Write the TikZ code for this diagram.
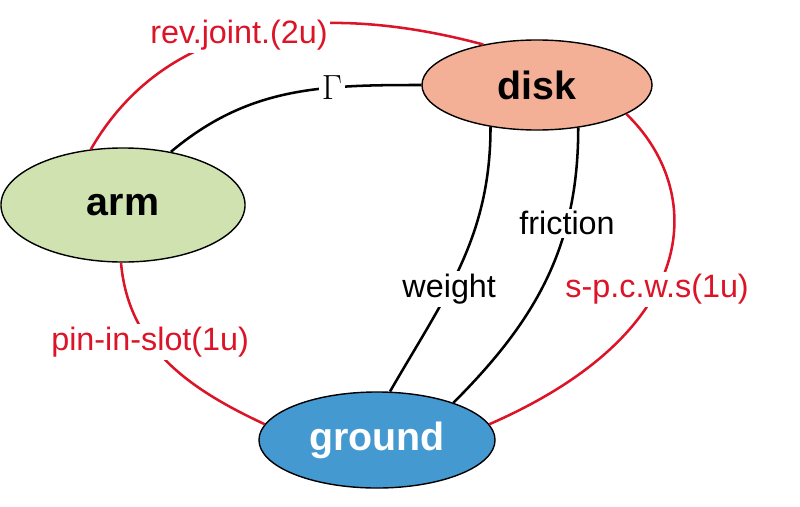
\documentclass[tikz,border=0pt]{standalone}
\usepackage{fontspec}
\setmainfont{Liberation Sans}
\usetikzlibrary{shapes.geometric}
\begin{document}
\begin{tikzpicture}[x=0.025cm,y=-0.025cm,
  ell/.style={ellipse,draw=black,line width=1pt,font=\fontsize{28}{32}\selectfont\bfseries},
  red/.style={draw={rgb,255:red,220;green,20;blue,40},line width=1.8pt},
  blk/.style={draw=black,line width=1.8pt},
  lab/.style={fill=white,inner sep=2pt,font=\fontsize{23}{26}\selectfont},
  rlab/.style={lab,text={rgb,255:red,220;green,20;blue,40}}]
\useasboundingbox (0,0) rectangle (800,506);
\node[ell,fill={rgb,255:red,244;green,176;blue,150},minimum width=5.75cm,minimum height=2.25cm] (disk) at (537,85) {disk};
\node[ell,fill={rgb,255:red,208;green,226;blue,176},minimum width=6.1cm,minimum height=2.85cm] (arm) at (123,205) {arm};
\node[ell,fill={rgb,255:red,68;green,153;blue,208},text=white,minimum width=5.9cm,minimum height=2.4cm] (ground) at (377,440) {ground};
\path[red] (arm.120) to[out=60,in=165] node[rlab,pos=0.45] {rev.joint.(2u)} (disk.143);
\path[blk] (arm.48) to[out=40,in=180] node[lab,pos=0.68,font=\fontsize{26}{28}\selectfont] {$\Gamma$} (disk.180);
\path[red] (arm.-92) to[out=-85,in=155] node[rlab,pos=0.38] {pin-in-slot(1u)} (ground.172);
\path[red] (disk.-18) .. controls (705,190) and (705,330) .. node[rlab,pos=0.58] {s-p.c.w.s(1u)} (ground.8);
\path[blk] (disk.-138) to[out=-90,in=60] node[lab,pos=0.6] {weight} (ground.75);
\path[blk] (disk.-46) to[out=-90,in=45] node[lab,pos=0.3] {friction} (ground.26);
\end{tikzpicture}
\end{document}
